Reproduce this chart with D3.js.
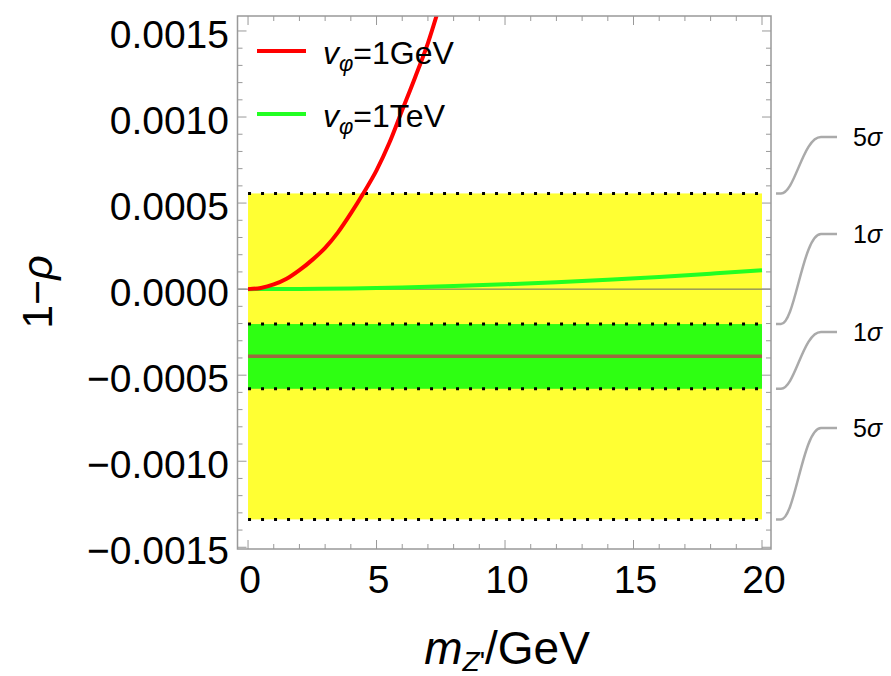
<!DOCTYPE html>
<html>
<head>
<meta charset="utf-8">
<script src="https://cdn.jsdelivr.net/npm/d3@7"></script>
<style>
  body { margin: 0; background: #fff; }
  text { font-family: "Liberation Sans", Arial, sans-serif; fill: #000; }
</style>
</head>
<body>
<div id="chart"></div>
<script>
// data
var massGeV = [0, 0.5, 1, 1.5, 2, 2.5, 3, 3.5, 4, 4.5, 5, 5.5, 6, 6.5, 7, 7.5];
var rhoGeV  = [0, 0.000007, 0.000027, 0.00006, 0.00011, 0.00017, 0.00024, 0.00033,
               0.00044, 0.00056, 0.00069, 0.00085, 0.00104, 0.00123, 0.00143, 0.00167];
var massTeV = [0, 2, 4, 6, 8, 10, 12, 14, 16, 18, 20];
var rhoTeV  = [0, 0.000001, 0.000004, 0.00001, 0.000018, 0.000028, 0.00004, 0.000054,
               0.00007, 0.00009, 0.00011];
var central = -0.00039;
var sigma1 = [-0.000203, -0.000579];
var sigma5 = [0.000556, -0.001338];
var sigmaLabels = ["5", "1", "1", "5"];
var sigmaEdges = [sigma5[0], sigma1[0], sigma1[1], sigma5[1]];
var xTicks = [0, 5, 10, 15, 20];
var yTicks = [-0.0015, -0.001, -0.0005, 0, 0.0005, 0.001, 0.0015];

var W = 891, H = 676;
// plot frame in pixels
var fL = 237.5, fR = 771, fT = 16, fB = 549;

var svg = d3.select("#chart").append("svg")
    .attr("width", W).attr("height", H);

var x = d3.scaleLinear().domain([-0.41, 20.35]).range([fL, fR]);
var y = d3.scaleLinear().domain([-0.00151, 0.001587]).range([fB, fT]);

svg.append("defs").append("clipPath").attr("id", "clip")
  .append("rect")
    .attr("x", fL).attr("y", fT)
    .attr("width", fR - fL).attr("height", fB - fT);

var plot = svg.append("g").attr("clip-path", "url(#clip)");

// 5 sigma band and 1 sigma band
plot.append("rect")
    .attr("x", x(0)).attr("width", x(20) - x(0))
    .attr("y", y(sigma5[0])).attr("height", y(sigma5[1]) - y(sigma5[0]))
    .attr("fill", "#ffff33");
plot.append("rect")
    .attr("x", x(0)).attr("width", x(20) - x(0))
    .attr("y", y(sigma1[0])).attr("height", y(sigma1[1]) - y(sigma1[0]))
    .attr("fill", "#2eff12");

// central value
plot.append("line")
    .attr("x1", x(0)).attr("x2", x(20))
    .attr("y1", y(central)).attr("y2", y(central))
    .attr("stroke", "#9c6a40").attr("stroke-width", 3.5);

// dotted edges
plot.selectAll(".edge")
  .data(sigmaEdges)
  .enter().append("line")
    .attr("x1", x(0)).attr("x2", x(20))
    .attr("y1", function(d) { return y(d); })
    .attr("y2", function(d) { return y(d); })
    .attr("stroke", "#000").attr("stroke-width", 3)
    .attr("stroke-dasharray", "3,10");

// zero line
plot.append("line")
    .attr("x1", fL).attr("x2", fR)
    .attr("y1", y(0)).attr("y2", y(0))
    .attr("stroke", "#666").attr("stroke-width", 1);

var line = d3.line()
    .x(function(d) { return x(d[0]); })
    .y(function(d) { return y(d[1]); })
    .curve(d3.curveMonotoneX);

plot.append("path")
    .datum(d3.zip(massTeV, rhoTeV))
    .attr("d", line)
    .attr("fill", "none").attr("stroke", "#22ff22").attr("stroke-width", 4);

plot.append("path")
    .datum(d3.zip(massGeV, rhoGeV))
    .attr("d", line)
    .attr("fill", "none").attr("stroke", "#ff0000").attr("stroke-width", 4);

// frame with ticks on all four sides
var frame = svg.append("g");
frame.append("rect")
    .attr("x", fL).attr("y", fT)
    .attr("width", fR - fL).attr("height", fB - fT)
    .attr("fill", "none").attr("stroke", "#999").attr("stroke-width", 1.5);

var xMinor = d3.range(0, 21, 1);
var yMinor = d3.range(-15, 16, 1).map(function(d) { return d * 0.0001; });

xMinor.forEach(function(v) {
  var len = (v % 5 === 0) ? 9 : 5;
  frame.append("line").attr("x1", x(v)).attr("x2", x(v))
      .attr("y1", fB).attr("y2", fB - len)
      .attr("stroke", "#999").attr("stroke-width", 1);
  frame.append("line").attr("x1", x(v)).attr("x2", x(v))
      .attr("y1", fT).attr("y2", fT + len)
      .attr("stroke", "#999").attr("stroke-width", 1);
});
yMinor.forEach(function(v, i) {
  var len = (i % 5 === 0) ? 9 : 5;
  if (y(v) > fB + 0.5 || y(v) < fT) return;
  frame.append("line").attr("x1", fL).attr("x2", fL + len)
      .attr("y1", y(v)).attr("y2", y(v))
      .attr("stroke", "#999").attr("stroke-width", 1);
  frame.append("line").attr("x1", fR).attr("x2", fR - len)
      .attr("y1", y(v)).attr("y2", y(v))
      .attr("stroke", "#999").attr("stroke-width", 1);
});

// tick labels
var fmt = d3.format(".4f");
svg.selectAll(".ylab")
  .data(yTicks)
  .enter().append("text")
    .attr("x", 229)
    .attr("y", function(d) { return y(d) + 3; })
    .attr("dy", "0.36em")
    .attr("text-anchor", "end")
    .style("font-size", "39px")
    .text(function(d) { return fmt(d); });

svg.selectAll(".xlab")
  .data(xTicks)
  .enter().append("text")
    .attr("x", function(d) { return x(d) + 2; })
    .attr("y", 593)
    .attr("text-anchor", "middle")
    .style("font-size", "39px")
    .text(function(d) { return d; });

// axis titles
var xt = svg.append("text")
    .attr("x", 507).attr("y", 664)
    .attr("text-anchor", "middle")
    .style("font-size", "46px");
xt.append("tspan").style("font-style", "italic").text("m");
xt.append("tspan").style("font-size", "28px").style("font-style", "italic")
    .attr("dy", 7).text("Z");
xt.append("tspan").style("font-size", "28px").text("'");
xt.append("tspan").attr("dy", -7).text("/GeV");

svg.append("text")
    .attr("transform", "translate(52,292) rotate(-90)")
    .attr("text-anchor", "middle")
    .style("font-size", "43px")
    .html('1\u2212<tspan font-style="italic">\u03c1</tspan>');

// legend
var legend = [
  {name: "1GeV", color: "#ff0000", y: 51},
  {name: "1TeV", color: "#22ff22", y: 114}
];
legend.forEach(function(d) {
  svg.append("line")
      .attr("x1", 257).attr("x2", 306)
      .attr("y1", d.y).attr("y2", d.y)
      .attr("stroke", d.color).attr("stroke-width", 4);
  var t = svg.append("text")
      .attr("x", 323).attr("y", d.y + 13)
      .style("font-size", "32px");
  t.append("tspan").style("font-style", "italic").text("v");
  t.append("tspan").style("font-style", "italic").style("font-size", "22px")
      .attr("dy", 7).text("\u03c6");
  t.append("tspan").attr("dy", -7).text("=" + d.name);
});

// sigma labels on the right
var labelY = [137, 234, 332, 428];
sigmaEdges.forEach(function(v, i) {
  var y0 = y(v), y1 = labelY[i];
  svg.append("path")
      .attr("d", "M" + (fR + 5) + "," + y0 + " L" + (fR + 10) + "," + y0 +
                 " C" + (fR + 24) + "," + y0 + " " + (fR + 32) + "," + y1 +
                 " " + (fR + 50) + "," + y1 + " L" + (fR + 66) + "," + y1)
      .attr("fill", "none").attr("stroke", "#aaa").attr("stroke-width", 2.5);
  var t = svg.append("text")
      .attr("x", 853).attr("y", y1 + 9)
      .style("font-size", "25px");
  t.append("tspan").text(sigmaLabels[i]);
  t.append("tspan").style("font-style", "italic").text("\u03c3");
});
</script>
</body>
</html>
